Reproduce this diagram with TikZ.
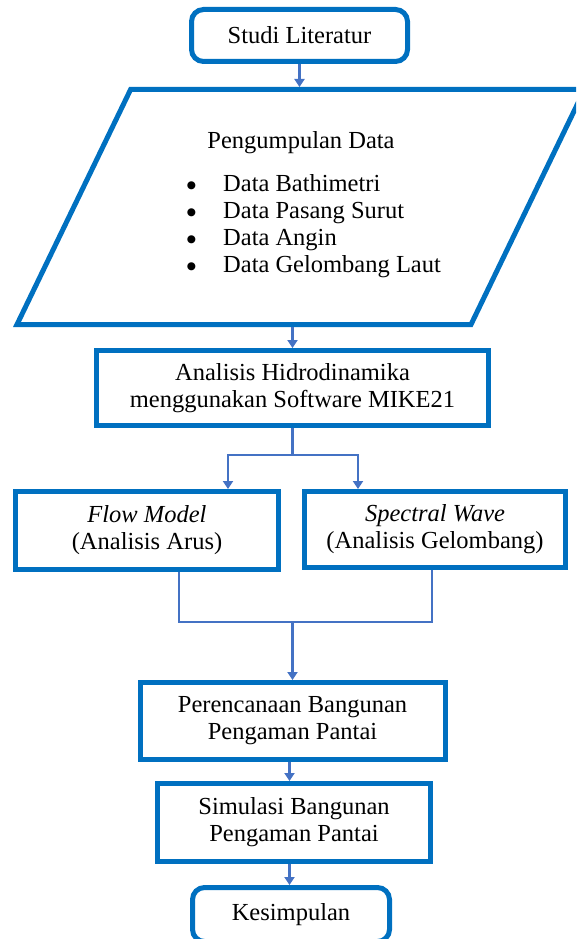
\documentclass[tikz,border=0pt]{standalone}
\usepackage{fontspec}
\setmainfont{Liberation Serif}
\newfontfamily\symf{DejaVu Sans}
\usetikzlibrary{arrows.meta,calc}
\definecolor{boxblue}{HTML}{0070C0}
\definecolor{lineblue}{HTML}{4472C4}
\newcommand\myfs{\fontsize{24.5}{27}\selectfont}
\newcommand\mybul{\makebox[8.5pt][c]{\raisebox{2.5pt}{\symf\fontsize{10.5}{12}\selectfont ●}}}
\tikzset{
  box/.style={draw=boxblue, line width=5pt, rectangle, inner sep=0pt, align=center, font=\myfs},
  rbox/.style={box, rounded corners=12pt},
  txt/.style={inner sep=0pt, font=\myfs},
  conn/.style={draw=lineblue, line width=2.5pt},
  arr/.style={conn, -{Triangle[width=10pt,length=8pt]}},
}
\begin{document}
\begin{tikzpicture}[x=1pt,y=-1pt]
\useasboundingbox (0,0) rectangle (576,939);
\clip (0,0) rectangle (576,939);
% nodes
\node[rbox, minimum width=216, minimum height=52] (studi) at (299.5,35.5) {Studi Literatur};
\draw[draw=boxblue, line width=5pt, line join=miter] (17,324.5) -- (471,324.5) -- (584.5,89.5) -- (130.6,89.5) -- cycle;
\coordinate (ptop) at (299.5,87);
\coordinate (pbot) at (292.5,327);
\node[txt, anchor=base] (ptitle) at (301,149) {Pengumpulan Data};
\node[txt, anchor=base west] (plist) at (187,191) {\myfs\begin{tabular}[t]{@{}l@{\hspace{27.5pt}}l@{}}
\mybul & Data Bathimetri\\
\mybul & Data Pasang Surut\\
\mybul & Data Angin\\
\mybul & Data Gelombang Laut
\end{tabular}};
\node[box, minimum width=392, minimum height=75] (ana) at (292.5,388) {Analisis Hidrodinamika\\menggunakan Software MIKE21};
\node[box, minimum width=263, minimum height=78] (flow) at (147,530.5) {\textit{Flow Model}\\(Analisis Arus)};
\node[box, minimum width=261, minimum height=76] (spec) at (435,529.5) {\textit{Spectral Wave}\\(Analisis Gelombang)};
\node[box, minimum width=305, minimum height=77] (per) at (292.5,721) {Perencanaan Bangunan\\Pengaman Pantai};
\node[box, minimum width=273, minimum height=78] (sim) at (294,822.5) {Simulasi Bangunan\\Pengaman Pantai};
\node[rbox, minimum width=197, minimum height=54] (kes) at (291,914.5) {Kesimpulan};
% connectors
\draw[arr] (studi) -- (ptop);
\draw[arr] (pbot) -- (ana);
\coordinate (split) at (292.5,455);
\draw[arr] (ana.south) -- (split) -| ([xshift=81pt]flow.north);
\draw[arr] (split) -| ([xshift=-77pt]spec.north);
\coordinate (merge) at (292.5,622);
\draw[conn] ([xshift=32pt]flow.south) |- (merge) -| ([xshift=-3pt]spec.south);
\draw[arr] (merge) -- (per);
\draw[arr] ([xshift=-1.5pt]per.south -| kes.center) -- ([xshift=-1.5pt]sim.north -| kes.center);
\draw[arr] ([xshift=-1.5pt]sim.south -| kes.center) -- ([xshift=-1.5pt]kes.north);
\end{tikzpicture}
\end{document}
